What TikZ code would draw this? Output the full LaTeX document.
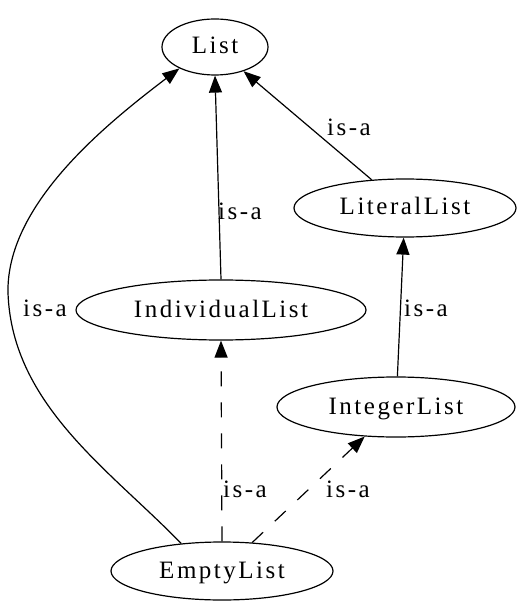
\documentclass[tikz,border=0pt]{standalone}
\usepackage{fontspec}
\newfontfamily\gvfont{Liberation Serif}[LetterSpace=10]
\usetikzlibrary{shapes.geometric,arrows.meta}
\tikzset{
  gv/.style={shape=ellipse,draw,line width=1.2pt,inner sep=0pt,
    text height=19pt,text depth=5pt,font=\gvfont\fontsize{25}{30}\selectfont},
  lbl/.style={anchor=base,inner sep=0pt,font=\gvfont\fontsize{25}{30}\selectfont},
  edge/.style={line width=1.2pt,-{Triangle[length=17pt,width=13pt]}},
  dashedge/.style={edge,dash pattern=on 15pt off 16pt}
}
\begin{document}
\begin{tikzpicture}[x=1pt,y=-1pt]
\useasboundingbox (0,0) rectangle (516,601);
\node[gv,minimum width=106pt,minimum height=56pt] (list) at (215,47) {List};
\node[gv,minimum width=222pt,minimum height=58pt] (lit) at (405,208) {LiteralList};
\node[gv,minimum width=290pt,minimum height=60pt] (indiv) at (221,310) {IndividualList};
\node[gv,minimum width=238pt,minimum height=60pt] (int) at (396,407) {IntegerList};
\node[gv,minimum width=222pt,minimum height=58pt] (empty) at (222,571) {EmptyList};
\coordinate (mid) at (8,293);
\draw[line width=1.2pt] (empty.146) .. controls (110,470) and (12,405) .. (mid);
\draw[edge] (mid) .. controls (6,205) and (105,125) .. (list.211);
\draw[edge] (indiv.north) -- (list.south);
\draw[edge] (lit) -- (list);
\draw[edge] (int) -- (lit);
\draw[dashedge] (empty.north) -- (indiv.south);
\draw[dashedge] (empty) -- (int);
\node[lbl] (l1) at (45,316) {is-a};
\node[lbl] (l2) at (240,220) {is-a};
\node[lbl] (l3) at (349,136) {is-a};
\node[lbl] (l4) at (426,316) {is-a};
\node[lbl] (l5) at (245,497) {is-a};
\node[lbl] (l6) at (348,497) {is-a};
\end{tikzpicture}
\end{document}
